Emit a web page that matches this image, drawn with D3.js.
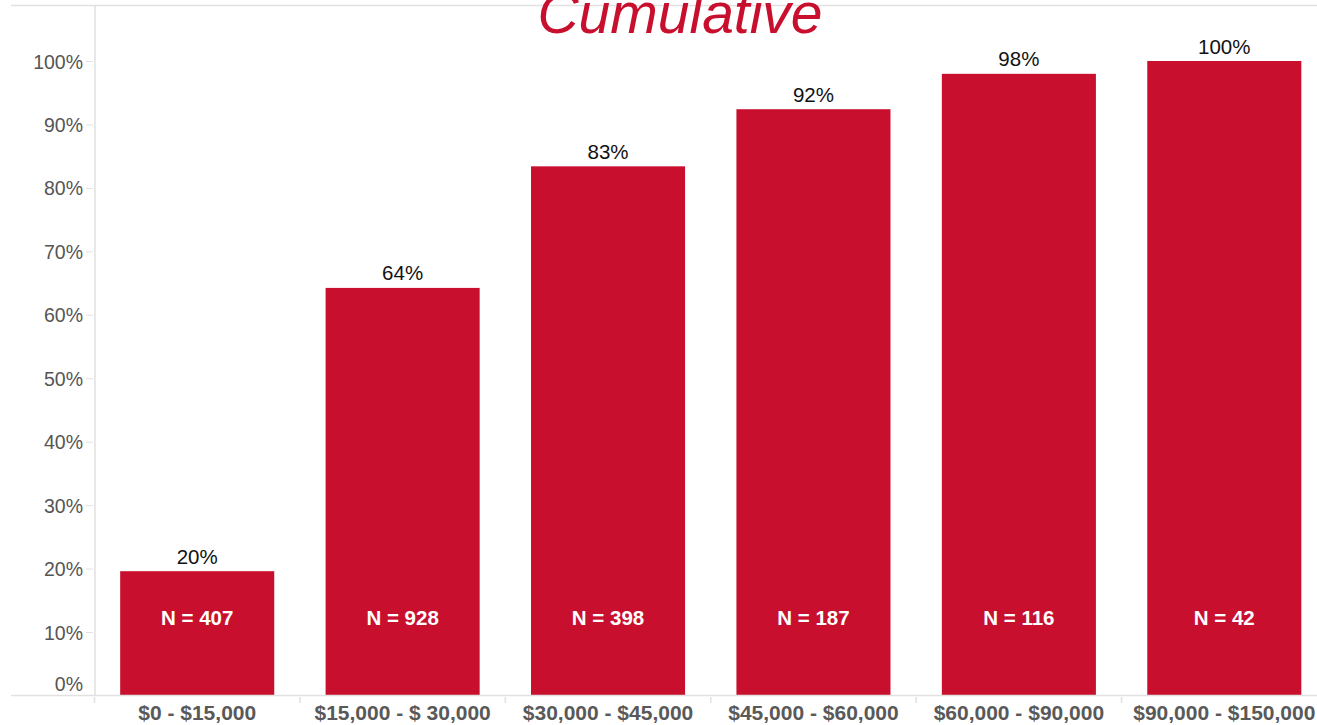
<!DOCTYPE html>
<html>
<head>
<meta charset="utf-8">
<script src="https://cdn.jsdelivr.net/npm/d3@7/dist/d3.min.js"></script>
<style>
  html, body { margin: 0; padding: 0; background: #fff; overflow: hidden; }
  svg { display: block; font-family: "Liberation Sans", Arial, sans-serif; }
</style>
</head>
<body>
<svg id="chart" width="1317" height="725"></svg>
<script>
// Income brackets and cumulative share of respondents
const categories = ["$0 - $15,000", "$15,000 - $ 30,000", "$30,000 - $45,000", "$45,000 - $60,000", "$60,000 - $90,000", "$90,000 - $150,000"];
const cumulativePct = [19.59, 64.24, 83.40, 92.40, 97.98, 100];
const counts = [407, 928, 398, 187, 116, 42];
const yTicks = [0, 10, 20, 30, 40, 50, 60, 70, 80, 90, 100];
const titleText = "Cumulative";

const W = 1317, H = 725;
const red = "#c8102e";
const grid = "#e1e1e1";
const svg = d3.select("#chart");

const x = d3.scaleBand()
  .domain(categories)
  .range([94.5, 1327])
  .paddingInner(0.25)
  .paddingOuter(0.125);

const y = d3.scaleLinear().domain([0, 100]).range([695.5, 61]);

// frame lines
svg.append("line").attr("x1", 11).attr("x2", W).attr("y1", 5.5).attr("y2", 5.5)
  .attr("stroke", grid).attr("stroke-width", 1.5);
svg.append("line").attr("x1", 95).attr("x2", 95).attr("y1", 5).attr("y2", 695)
  .attr("stroke", grid).attr("stroke-width", 1.5);

// title
svg.append("text")
  .attr("x", 680).attr("y", 33)
  .attr("text-anchor", "middle")
  .attr("font-size", 57).attr("font-style", "italic")
  .attr("fill", red)
  .text(titleText);

// y axis
const yAxis = svg.append("g").attr("transform", "translate(93,0)")
  .call(d3.axisLeft(y).tickValues(yTicks).tickSize(7).tickPadding(3).tickFormat(d => d + "%"));
yAxis.select(".domain").remove();
yAxis.selectAll(".tick line").attr("stroke", grid).attr("stroke-width", 1)
  .attr("display", d => d === 0 ? "none" : null);
yAxis.selectAll(".tick text")
  .attr("font-family", "Liberation Sans, Arial, sans-serif")
  .attr("font-size", 19.5).attr("fill", "#555")
  .attr("dy", d => d === 0 ? "-0.25em" : "0.36em");

// bars
svg.append("g").selectAll("rect")
  .data(categories)
  .join("rect")
  .attr("x", d => x(d))
  .attr("width", x.bandwidth())
  .attr("y", (d, i) => y(cumulativePct[i]))
  .attr("height", (d, i) => y(0) - y(cumulativePct[i]))
  .attr("fill", red);

// value labels
svg.append("g").selectAll("text")
  .data(categories)
  .join("text")
  .attr("x", d => x(d) + x.bandwidth() / 2)
  .attr("y", (d, i) => y(cumulativePct[i]) - 7.5)
  .attr("text-anchor", "middle")
  .attr("font-size", 20.5).attr("fill", "#111")
  .text((d, i) => Math.round(cumulativePct[i]) + "%");

// count labels
svg.append("g").selectAll("text")
  .data(categories)
  .join("text")
  .attr("x", d => x(d) + x.bandwidth() / 2)
  .attr("y", 625)
  .attr("text-anchor", "middle")
  .attr("font-size", 20.5).attr("font-weight", "bold").attr("fill", "#fff")
  .text((d, i) => "N = " + counts[i]);

// baseline
svg.append("line").attr("x1", 11).attr("x2", W).attr("y1", 695.5).attr("y2", 695.5)
  .attr("stroke", grid).attr("stroke-width", 1.5);

// category boundary ticks
const step = x.step();
const bounds = d3.range(categories.length).map(i => x(categories[i]) - x.paddingOuter() * step);
svg.append("g").selectAll("line")
  .data(bounds)
  .join("line")
  .attr("x1", d => d).attr("x2", d => d)
  .attr("y1", 697).attr("y2", 703)
  .attr("stroke", grid).attr("stroke-width", 1.5);

// x labels
svg.append("g").selectAll("text")
  .data(categories)
  .join("text")
  .attr("x", d => x(d) + x.bandwidth() / 2)
  .attr("y", 720)
  .attr("text-anchor", "middle")
  .attr("font-size", 21).attr("font-weight", "bold").attr("fill", "#595959")
  .text(d => d);
</script>
</body>
</html>
